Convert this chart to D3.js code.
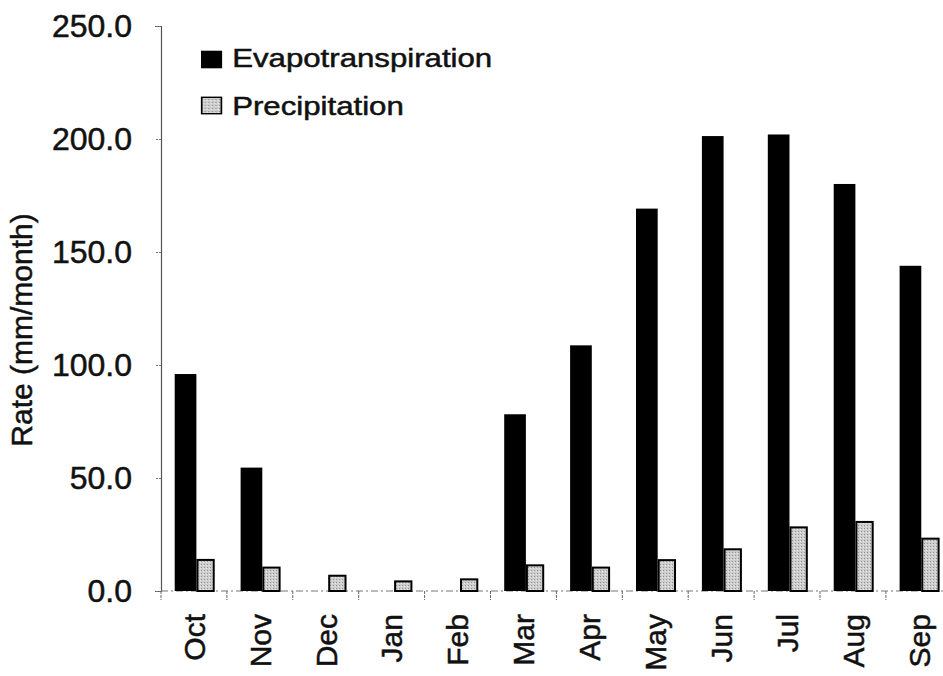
<!DOCTYPE html>
<html>
<head>
<meta charset="utf-8">
<script src="https://cdn.jsdelivr.net/npm/d3@7"></script>
<style>
  body { margin: 0; background: #fff; }
  svg { display: block; font-family: "Liberation Sans", Arial, sans-serif; }
  svg text { stroke: #111; stroke-width: 0.5px; }
</style>
</head>
<body>
<svg id="chart"></svg>
<script>
var months = ["Oct", "Nov", "Dec", "Jan", "Feb", "Mar", "Apr", "May", "Jun", "Jul", "Aug", "Sep"];
var evapotranspiration = [96.0, 54.6, 0, 0, 0, 78.2, 108.7, 169.2, 201.3, 202.0, 180.1, 143.9];
var precipitation = [14.2, 10.8, 7.2, 4.7, 5.6, 11.8, 10.8, 14.1, 18.9, 28.6, 31.0, 23.6];
var yTicks = [0, 50, 100, 150, 200, 250];
var seriesNames = ["Evapotranspiration", "Precipitation"];

var width = 943;
var height = 676;
var svg = d3.select("#chart")
    .attr("width", width)
    .attr("height", height);

// stippled grey fill for the precipitation bars
var defs = svg.append("defs");
var pat = defs.append("pattern")
    .attr("id", "stipple")
    .attr("patternUnits", "userSpaceOnUse")
    .attr("width", 3)
    .attr("height", 3);
pat.append("rect").attr("width", 3).attr("height", 3).attr("fill", "#cdcdcd");
pat.append("rect").attr("x", 0).attr("y", 0).attr("width", 1).attr("height", 1).attr("fill", "#939393");
pat.append("rect").attr("x", 2).attr("y", 1).attr("width", 1).attr("height", 1).attr("fill", "#eaeaea");

var plotLeft = 161, plotBottom = 591, plotTop = 26;
var x = d3.scaleBand()
    .domain(months)
    .range([plotLeft, plotLeft + 12 * 65.9])
    .padding(0);
var y = d3.scaleLinear()
    .domain([0, 250])
    .range([plotBottom, plotTop]);
var bw = x.bandwidth();

var data = months.map(function (m, i) {
    return { month: m, evap: evapotranspiration[i], precip: precipitation[i] };
});

// y axis
var yAxis = svg.append("g")
    .attr("transform", "translate(" + plotLeft + ",0)")
    .call(d3.axisLeft(y).tickValues(yTicks).tickSize(6).tickPadding(23).tickFormat(d3.format(".1f")));
yAxis.select(".domain").attr("stroke", "#555").attr("stroke-width", 1.2);
yAxis.selectAll(".tick line").attr("stroke", "#777").attr("stroke-dasharray", "2,1");
yAxis.selectAll(".tick text")
    .attr("font-size", 32)
    .attr("fill", "#111")
    .attr("font-family", "Liberation Sans, Arial, sans-serif");

// x axis (dashed baseline, ticks between months)
svg.append("line")
    .attr("x1", plotLeft).attr("x2", width)
    .attr("y1", plotBottom).attr("y2", plotBottom)
    .attr("stroke", "#777")
    .attr("stroke-width", 1.2)
    .attr("stroke-dasharray", "7,3,2,3");
svg.selectAll(".xtick")
    .data(months).enter()
    .append("line")
    .attr("class", "xtick")
    .attr("x1", function (m) { return x(m); })
    .attr("x2", function (m) { return x(m); })
    .attr("y1", plotBottom)
    .attr("y2", plotBottom + 9)
    .attr("stroke", "#666")
    .attr("stroke-dasharray", "3,1");

// bars
svg.selectAll(".evap")
    .data(data).enter()
    .append("rect")
    .attr("class", "evap")
    .attr("x", function (d) { return x(d.month) + bw * 0.208; })
    .attr("width", bw * 0.329)
    .attr("y", function (d) { return y(d.evap); })
    .attr("height", function (d) { return plotBottom - y(d.evap); })
    .attr("fill", "#000");

svg.selectAll(".precip")
    .data(data).enter()
    .append("rect")
    .attr("class", "precip")
    .attr("x", function (d) { return x(d.month) + bw * 0.537 + 1; })
    .attr("width", bw * 0.278 - 2)
    .attr("y", function (d) { return y(d.precip) + 1; })
    .attr("height", function (d) { return plotBottom - y(d.precip) - 1; })
    .attr("fill", "url(#stipple)")
    .attr("stroke", "#000")
    .attr("stroke-width", 2);

// month labels
svg.selectAll(".mlabel")
    .data(months).enter()
    .append("text")
    .attr("class", "mlabel")
    .attr("transform", function (m) {
        return "translate(" + (x(m) + bw / 2) + ",614) rotate(-90)";
    })
    .attr("text-anchor", "end")
    .attr("dy", "0.36em")
    .attr("font-size", 30)
    .attr("fill", "#111")
    .text(function (m) { return m; });

// y axis title
svg.append("text")
    .attr("transform", "translate(32,330) rotate(-90)")
    .attr("text-anchor", "middle")
    .attr("font-size", 30)
    .attr("fill", "#111")
    .text("Rate (mm/month)");

// legend
var legend = svg.append("g")
    .attr("transform", "translate(201,0) scale(1.2,1)");
var legendRows = legend.selectAll(".lrow")
    .data(seriesNames).enter()
    .append("g")
    .attr("class", "lrow")
    .attr("transform", function (d, i) { return "translate(0," + (i * 48) + ")"; });
legendRows.append("rect")
    .attr("x", function (d, i) { return i ? 0.6 : 0; })
    .attr("y", function (d, i) { return i ? 49.3 : 50.7; })
    .attr("width", function (d, i) { return i ? 16.4 : 17.6; })
    .attr("height", function (d, i) { return i ? 16.4 : 17.6; })
    .attr("fill", function (d, i) { return i ? "url(#stipple)" : "#000"; })
    .attr("stroke", function (d, i) { return i ? "#000" : "none"; })
    .attr("stroke-width", 1.4);
legendRows.append("text")
    .attr("x", 26)
    .attr("y", 67)
    .attr("font-size", 26)
    .attr("fill", "#111")
    .text(function (d) { return d; });
</script>
</body>
</html>
